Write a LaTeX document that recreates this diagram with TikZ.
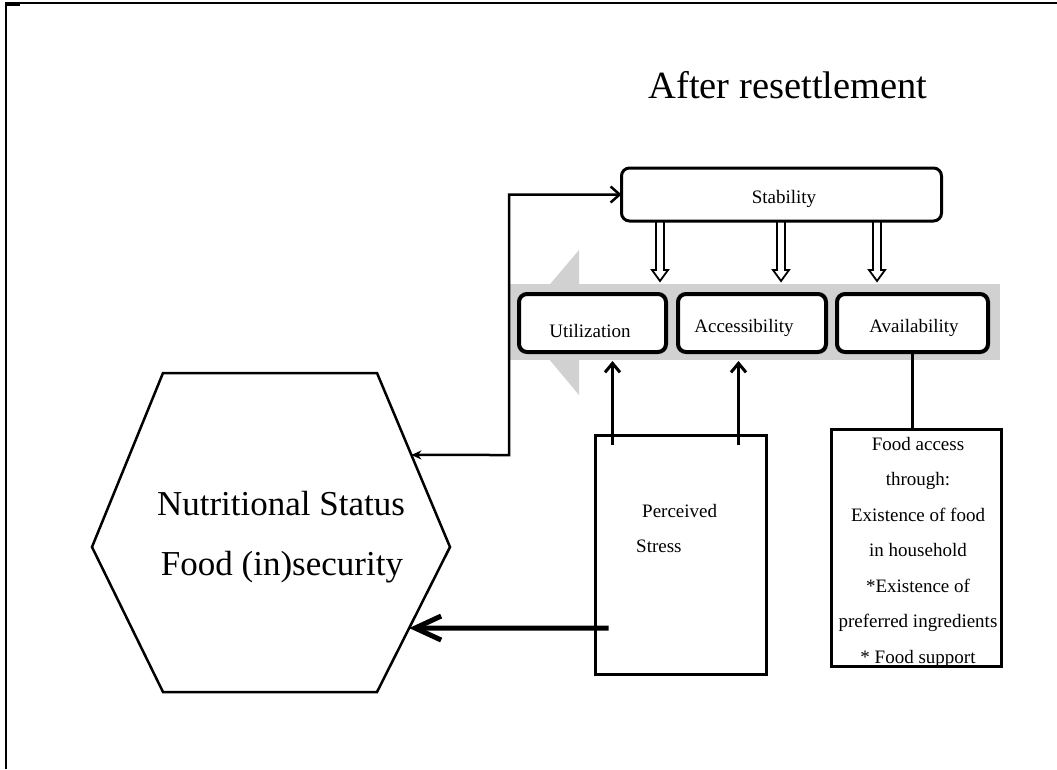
\documentclass[tikz,border=0pt]{standalone}
\usepackage{fontspec}
\setmainfont{Liberation Serif}
\usetikzlibrary{arrows.meta,calc}
\begin{document}
\begin{tikzpicture}[x=1pt,y=-1pt,
  pillar/.style={draw, line width=4pt, rounded corners=8pt, fill=white,
    inner sep=0pt, outer sep=0pt, minimum height=58pt},
  plainbox/.style={draw, line width=3pt, fill=white, inner sep=0pt, outer sep=0pt},
  txt/.style={font=\fontsize{19}{23}\selectfont, inner sep=0pt, anchor=base},
  bigtxt/.style={font=\fontsize{35}{40}\selectfont, inner sep=0pt, anchor=base},
  conn/.style={line width=2.5pt},
  uparrow/.style={line width=3pt, -{Straight Barb[length=9pt,width=15pt]}},
  hollowdown/.style={draw, line width=1.8pt, fill=white, line join=miter},
  band/.style={fill=black!18, draw=none}
]
\useasboundingbox (0,0) rectangle (1057,769);

% page frame
\draw[line width=2pt] (1057,3) -- (5.5,3) -- (5.5,769);
\draw[line width=3.5pt] (5,4.5) -- (20,4.5);

% heading
\node[font=\fontsize{38.5}{44}\selectfont, inner sep=0pt, anchor=base] (title) at (788,98) {After resettlement};

% grey arrow behind the three pillars
\fill[band] (510,284) rectangle (1000,360);
\fill[band] (579,250) -- (518,322) -- (579,395) -- cycle;

% hollow arrows from Stability down to the pillars
\foreach \xx in {660,781,877}
  \draw[hollowdown] (\xx-4,220) -- (\xx-4,270) -- (\xx-8,270) -- (\xx,281)
    -- (\xx+8,270) -- (\xx+4,270) -- (\xx+4,220);

% Stability
\node[pillar, line width=3pt, minimum width=320pt, minimum height=53pt] (stab) at (781.5,194.5) {};
\node[txt] (stabtxt) at (784,203) {Stability};

% the three pillars
\node[pillar, minimum width=147pt] (util) at (592.5,323) {};
\node[pillar, minimum width=148pt] (access) at (752,323) {};
\node[pillar, minimum width=151pt] (avail) at (912.5,323) {};
\node[txt] (utiltxt) at (590,337) {Utilization};
\node[txt] (accesstxt) at (744,332) {Accessibility};
\node[txt] (availtxt) at (914,332) {Availability};

% lower boxes
\node[plainbox, minimum width=171pt, minimum height=239pt] (stress) at (681,555) {};
\node[txt, anchor=base west] (stress1) at (642,517) {Perceived};
\node[txt, anchor=base west] (stress2) at (636,552) {Stress};

\node[plainbox, minimum width=170pt, minimum height=237pt] (food) at (916.5,548) {};
\foreach \ln/\yy in {Food access/450, through:/485, Existence of food/521,
    in household/556, *Existence of/592, preferred ingredients/627, * Food support/663}
  \node[txt] at (918,\yy) {\ln};

% hexagon
\coordinate (hNW) at (163,373);
\coordinate (hNE) at (377,373);
\coordinate (hE)  at (450,547);
\coordinate (hSE) at (377,692);
\coordinate (hSW) at (163,692);
\coordinate (hW)  at (92,547);
\draw[line width=2.5pt, line join=miter] (hNW) -- (hNE) -- (hE) -- (hSE) -- (hSW) -- (hW) -- cycle;
\node[bigtxt] (hex1) at (281,515) {Nutritional Status};
\node[bigtxt] (hex2) at (282,575) {Food (in)security};

% connectors
\coordinate (hexA) at ($(hNE)!0.471!(hE)$);
\coordinate (hexB) at ($(hE)!0.559!(hSE)$);
\coordinate (bend) at (509,455);
\draw[conn, {Stealth[length=10pt,width=9pt]}-{Straight Barb[length=9pt,width=16pt]}]
  (hexA) -- (bend) |- (stab.west);

\coordinate (s1) at ($(stress.north west)+(17,9)$);
\coordinate (s2) at ($(stress.north west)+(143,9)$);
\draw[uparrow] (s1) -- ($(s1 |- util.south)+(0,9)$);
\draw[uparrow] (s2) -- ($(s2 |- access.south)+(0,9)$);

\draw[conn] (avail.south) -- (avail.south |- food.north);

\coordinate (sIn) at ($(stress.west)+(13,73)$);
\draw[line width=5pt, -{Straight Barb[length=26pt,width=24pt]}] (sIn) -- (hexB);
\end{tikzpicture}
\end{document}
